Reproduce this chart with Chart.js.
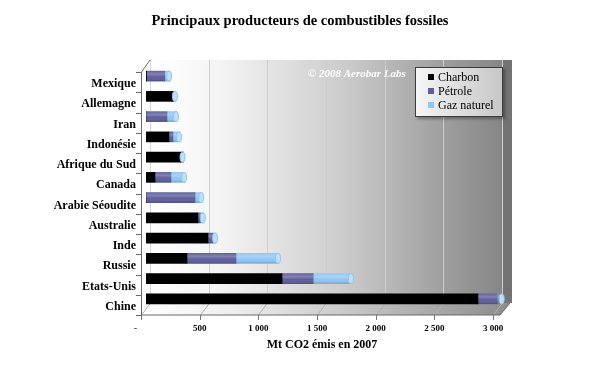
<!DOCTYPE html>
<html><head><meta charset="utf-8">
<script src="https://cdn.jsdelivr.net/npm/chart.js@4"></script>
<style>html,body{margin:0;padding:0;background:#fff}canvas{display:block}</style>
</head><body>
<canvas id="c" width="599" height="373"></canvas>
<script>
const categories = ['Mexique','Allemagne','Iran','Indonésie','Afrique du Sud','Canada','Arabie Séoudite','Australie','Inde','Russie','Etats-Unis','Chine'];
const charbon = [5, 230, 0, 196, 315, 77, 0, 443, 529, 350, 1160, 2830];
const petrole = [155, 10, 179, 34, 0, 136, 418, 20, 42, 417, 265, 165];
const gazNaturel = [45, 15, 85, 60, 5, 120, 60, 30, 26, 367, 330, 45];
const seriesNames = ['Charbon', 'Pétrole', 'Gaz naturel'];
const xTickLabels = ['-     ', '500', '1 000', '1 500', '2 000', '2 500', '3 000'];
const titleText = 'Principaux producteurs de combustibles fossiles';
const axisTitle = 'Mt CO2 émis en 2007';
const watermark = '© 2008 Aerobar Labs';

const COLORS = ['#000000', '#5e5e9c', '#8fc6f4'];
const CAPS = ['#2a2a2a', '#8585c2', '#bfe0fb'];
const SERIF = '"Liberation Serif", "DejaVu Serif", serif';
const DX = 4, DY = 6;

const scene = {
  id: 'scene',
  beforeDatasetsDraw(chart) {
    const {ctx, chartArea: a, scales: {x}} = chart;
    const L = a.left, R = a.right, T = a.top, B = a.bottom;
    const bl = L + DX, br = R + DX, bt = T - DY, bb = B - DY;
    const fl = L - DX, fb = B + DY;
    ctx.save();
    ctx.fillStyle = '#000';
    ctx.font = 'bold 14.5px ' + SERIF;
    ctx.textAlign = 'center'; ctx.textBaseline = 'middle';
    ctx.fillText(titleText, 300, 21);
    let g = ctx.createLinearGradient(bl, 0, br, 0);
    g.addColorStop(0, '#ffffff'); g.addColorStop(0.2, '#f4f4f4');
    g.addColorStop(0.55, '#cccccc'); g.addColorStop(0.8, '#a4a4a4'); g.addColorStop(1, '#868686');
    ctx.fillStyle = g; ctx.fillRect(bl, bt, br - bl, bb - bt);
    ctx.fillStyle = '#737373';
    ctx.beginPath(); ctx.moveTo(br, bt); ctx.lineTo(br + 10, bt); ctx.lineTo(br + 10, bb); ctx.lineTo(br, bb); ctx.closePath(); ctx.fill();
    g = ctx.createLinearGradient(fl, 0, br + 10, 0);
    g.addColorStop(0, '#ffffff'); g.addColorStop(0.25, '#eeeeee');
    g.addColorStop(0.6, '#c2c2c2'); g.addColorStop(1, '#8c8c8c');
    ctx.fillStyle = g;
    ctx.beginPath(); ctx.moveTo(bl, bb); ctx.lineTo(br + 8, bb); ctx.lineTo(br - 2, fb); ctx.lineTo(fl, fb); ctx.closePath(); ctx.fill();
    ctx.fillStyle = '#ffffff';
    ctx.beginPath(); ctx.moveTo(fl, T + DY); ctx.lineTo(bl, bt); ctx.lineTo(bl, bb); ctx.lineTo(fl, fb); ctx.closePath(); ctx.fill();
    ctx.lineWidth = 1;
    for (let v = 0; v <= 3000; v += 500) {
      const px = Math.round(x.getPixelForValue(v)) + 0.5;
      ctx.strokeStyle = '#cdcdcd';
      if (v > 0) { ctx.beginPath(); ctx.moveTo(px + DX, bt); ctx.lineTo(px + DX, bb); ctx.stroke(); }
      ctx.strokeStyle = '#b0b0b0';
      ctx.beginPath(); ctx.moveTo(px + DX, bb); ctx.lineTo(px - DX - 1, fb); ctx.stroke();
      ctx.strokeStyle = '#7a7a7a';
      ctx.beginPath(); ctx.moveTo(px - DX - 1, fb); ctx.lineTo(px - DX - 1, fb + 5); ctx.stroke();
    }
    ctx.strokeStyle = '#d8d8d8';
    ctx.beginPath(); ctx.moveTo(bl + 0.5, bt); ctx.lineTo(bl + 0.5, bb); ctx.stroke();
    ctx.strokeStyle = '#6a6a6a';
    ctx.beginPath();
    ctx.moveTo(fl - 0.5, T + DY); ctx.lineTo(bl, bt);
    ctx.moveTo(fl - 0.5, T + DY); ctx.lineTo(fl - 0.5, fb);
    ctx.lineTo(br - 2, fb);
    ctx.lineTo(br + 8, bb);
    ctx.stroke();
    const n = categories.length;
    for (let i = 0; i <= n; i++) {
      const yy = Math.round(T + DY + i * (B - T) / n) + 0.5;
      ctx.beginPath(); ctx.moveTo(fl - 6, yy); ctx.lineTo(fl, yy); ctx.stroke();
    }
    ctx.restore();
  },
  afterDatasetsDraw(chart) {
    const {ctx, scales: {x}} = chart;
    ctx.save();
    chart.data.datasets.forEach((ds, k) => {
      if (k === 0) return;
      chart.getDatasetMeta(k).data.forEach(el => {
        const p = el.getProps(['x', 'y', 'base', 'height'], true);
        const left = Math.min(p.base, p.x), w = Math.abs(p.x - p.base);
        if (w < 0.5) return;
        const top = p.y - p.height / 2;
        const g = ctx.createLinearGradient(0, top, 0, top + p.height);
        g.addColorStop(0, 'rgba(255,255,255,0.05)');
        g.addColorStop(0.3, 'rgba(255,255,255,0.22)');
        g.addColorStop(0.6, 'rgba(255,255,255,0)');
        g.addColorStop(1, 'rgba(0,0,0,0.2)');
        ctx.fillStyle = g;
        ctx.fillRect(left, top, w, p.height);
      });
    });
    const meta = chart.getDatasetMeta(0);
    const series = [charbon, petrole, gazNaturel];
    for (let i = 0; i < categories.length; i++) {
      let total = 0, last = 0;
      series.forEach((s, k) => { total += s[i]; if (s[i] > 0) last = k; });
      const yc = meta.data[i].y;
      const ex = x.getPixelForValue(total);
      ctx.fillStyle = CAPS[last];
      ctx.strokeStyle = COLORS[last];
      ctx.beginPath(); ctx.ellipse(ex - 1, yc, 2.5, 5, 0, 0, Math.PI * 2); ctx.fill(); ctx.stroke();
    }
    ctx.fillStyle = '#ffffff';
    ctx.font = 'italic bold 11px ' + SERIF;
    ctx.textBaseline = 'middle'; ctx.textAlign = 'left';
    ctx.fillText(watermark, 308, 74);
    const lx = 415, ly = 67, lw = 88, lh = 50;
    ctx.shadowColor = 'rgba(0,0,0,0.35)'; ctx.shadowOffsetX = 2; ctx.shadowOffsetY = 2; ctx.shadowBlur = 3;
    let g = ctx.createLinearGradient(lx, 0, lx + lw, 0);
    g.addColorStop(0, '#f6f6f6'); g.addColorStop(1, '#c6c6c6');
    ctx.fillStyle = g; ctx.fillRect(lx, ly, lw, lh);
    ctx.shadowColor = 'transparent';
    ctx.strokeStyle = '#3c3c3c'; ctx.lineWidth = 1;
    ctx.strokeRect(lx + 0.5, ly + 0.5, lw - 1, lh - 1);
    ctx.font = '12px ' + SERIF;
    seriesNames.forEach((name, k) => {
      const yy = 77 + k * 14;
      ctx.fillStyle = COLORS[k]; ctx.fillRect(428, yy - 3, 6, 6);
      ctx.fillStyle = '#000'; ctx.fillText(name, 438, yy + 0.5);
    });
    ctx.restore();
  }
};

new Chart(document.getElementById('c'), {
  type: 'bar',
  data: {
    labels: categories,
    datasets: [
      {label: seriesNames[0], data: charbon, backgroundColor: COLORS[0]},
      {label: seriesNames[1], data: petrole, backgroundColor: COLORS[1]},
      {label: seriesNames[2], data: gazNaturel, backgroundColor: COLORS[2]}
    ]
  },
  options: {
    indexAxis: 'y',
    responsive: false,
    animation: false,
    devicePixelRatio: 1,
    barThickness: 10,
    layout: {padding: {left: 0, right: 101, top: 66, bottom: 0}},
    plugins: {
      legend: {display: false},
      tooltip: {enabled: false},
      title: {display: false}
    },
    scales: {
      x: {
        stacked: true, min: 0, max: 3000,
        grid: {display: false, drawTicks: false},
        border: {display: false},
        ticks: {
          stepSize: 500, color: '#000', padding: 14, labelOffset: -5, maxRotation: 0,
          font: {family: SERIF, size: 9, weight: 'bold'},
          callback: (v, i) => xTickLabels[i]
        },
        title: {display: true, text: axisTitle, color: '#000',
          font: {family: SERIF, size: 12, weight: 'bold', lineHeight: 1.2},
          padding: {top: 0, bottom: 20.5}},
        afterFit: s => { s.height = 64; }
      },
      y: {
        stacked: true,
        grid: {display: false, drawTicks: false},
        border: {display: false},
        ticks: {color: '#000', padding: 10, labelOffset: 8,
          font: {family: SERIF, size: 12, weight: 'bold'}},
        afterFit: s => { s.width = 146; }
      }
    }
  },
  plugins: [scene]
});
</script>
</body></html>
